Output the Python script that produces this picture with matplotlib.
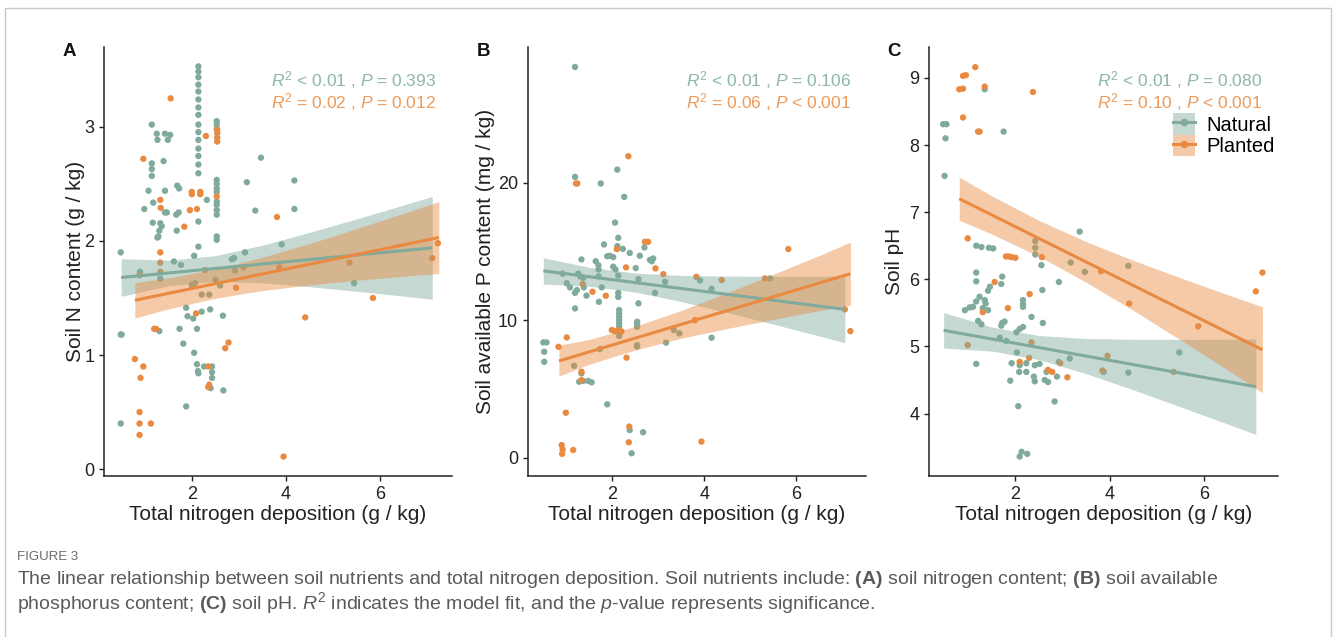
import matplotlib
matplotlib.use('Agg')
import matplotlib.pyplot as plt
from matplotlib.patches import Patch, Rectangle
from matplotlib.lines import Line2D

# ==================== 数据 ====================
# Panel A: soil N content (g / kg)
a_nat_x = [2.14] * 17 + [2.53] * 13 + [
    1.15, 1.255, 1.27, 1.43, 1.54, 1.49, 1.15, 1.15, 1.15, 1.40, 1.08, 1.43, 1.69, 1.73,
    0.99, 1.18, 1.43, 1.47, 1.67, 1.72, 1.17, 1.33, 1.36, 1.31, 1.29, 1.27, 1.68,
    2.32, 3.17, 3.47, 4.18, 4.18, 3.35, 0.49, 3.91, 3.13, 2.05,
    0.49, 0.51, 0.49, 0.90, 1.33, 1.62, 1.77, 1.31, 1.74, 2.11, 1.82,
    1.88, 1.91, 2.03, 2.21, 2.39, 2.66, 2.21, 2.37, 2.00, 2.07, 2.50, 2.60,
    2.85, 2.90, 2.92, 2.05, 2.11, 2.13, 2.14, 2.26, 2.43, 2.43, 2.43, 2.40, 2.67, 1.88, 5.45]
a_nat_y = [3.53, 3.485, 3.435, 3.37, 3.31, 3.24, 3.17, 3.105, 3.02, 2.954, 2.886, 2.81,
           2.745, 2.67, 2.593, 2.17, 1.95] + [
    3.05, 3.02, 2.98, 2.535, 2.50, 2.46, 2.43, 2.345, 2.316, 2.27, 2.23, 2.04, 2.01] + [
    3.02, 2.94, 2.886, 2.94, 2.93, 2.886, 2.68, 2.63, 2.57, 2.70, 2.44, 2.44, 2.485, 2.46,
    2.28, 2.336, 2.25, 2.25, 2.23, 2.25, 2.16, 2.155, 2.13, 2.09, 2.04, 2.03, 2.09,
    2.36, 2.515, 2.73, 2.53, 2.28, 2.266, 1.90, 1.97, 1.90, 1.87,
    1.18, 1.18, 0.40, 1.73, 1.67, 1.82, 1.79, 1.21, 1.23, 1.23, 1.10,
    1.415, 1.34, 1.32, 1.38, 1.40, 1.345, 1.53, 1.53, 1.615, 1.63, 1.66, 1.61,
    1.84, 1.85, 1.74, 1.02, 0.92, 0.86, 0.84, 0.90, 0.90, 0.85, 0.80, 0.71, 0.69, 0.55, 1.63]
a_pla_x = [1.55, 2.30, 0.97, 1.33, 1.34, 2.00, 2.18, 2.00, 2.18, 1.96, 2.11, 1.84, 3.81, 1.33,
           2.54, 2.54, 2.54, 2.54, 2.53,
           0.89, 1.33, 1.33, 2.28, 3.10, 2.94, 3.86, 4.41, 2.09, 1.20, 1.24, 2.78, 2.71,
           0.79, 0.97, 0.91, 0.89, 0.89, 1.13, 0.89, 2.35, 2.37, 2.35, 3.95,
           5.35, 5.85, 7.11, 7.23]
a_pla_y = [3.25, 2.92, 2.72, 2.36, 2.29, 2.43, 2.43, 2.41, 2.41, 2.27, 2.28, 2.125, 2.21, 1.90,
           2.975, 2.945, 2.906, 2.871, 2.39,
           1.70, 1.81, 1.73, 1.745, 1.77, 1.59, 1.77, 1.33, 1.365, 1.23, 1.23, 1.11, 1.06,
           0.965, 0.90, 0.80, 0.50, 0.40, 0.40, 0.30, 0.90, 0.74, 0.72, 0.11,
           1.81, 1.50, 1.85, 1.98]

# Panel B: soil available P content (mg / kg)
b_nat_x = [1.19, 1.19, 2.11, 1.75, 2.26, 2.06, 2.13, 1.82,
           2.11, 2.23, 2.38, 2.60, 2.70, 2.82, 2.86, 2.89,
           1.89, 2.02, 1.95, 1.33, 1.64, 1.70, 1.70, 2.02, 2.07, 2.51, 0.92, 1.26,
           1.30, 1.37, 1.70, 2.13, 2.57, 3.15, 3.91, 4.16,
           1.01, 1.08, 1.23, 1.38, 1.44, 1.77, 1.19, 2.93, 2.13, 2.13, 1.71, 2.57, 1.19] + \
          [2.15] * 8 + [2.54] * 5 + [
           3.34, 3.46, 3.17, 4.16, 1.73, 0.50, 0.57, 0.52, 0.52, 1.17,
           1.28, 1.48, 1.55, 1.37, 1.33, 1.89, 2.38, 2.67, 2.42, 5.43]
b_nat_y = [28.42, 20.43, 20.96, 19.95, 18.98, 17.11, 16.0, 15.52,
           15.4, 15.2, 14.9, 14.7, 15.3, 14.4, 14.3, 14.5,
           14.66, 14.6, 14.7, 14.43, 14.3, 14.0, 13.7, 13.9, 13.7, 13.8, 13.4, 13.4,
           13.2, 13.1, 13.2, 13.25, 13.0, 12.8, 12.9, 12.3,
           12.7, 12.4, 12.2, 12.4, 11.8, 12.4, 12.0, 12.0, 12.0, 11.7, 11.35, 11.24, 10.87] + \
          [10.75, 10.5, 10.27, 10.03, 9.78, 9.54, 9.18, 8.87] + [9.9, 9.73, 9.54, 8.21, 8.1] + [
           9.3, 9.05, 8.38, 8.74, 7.92, 8.40, 8.40, 7.72, 6.99, 6.7,
           5.54, 5.6, 5.5, 5.6, 6.15, 3.9, 2.03, 1.87, 0.34, 13.05]
b_pla_x = [2.35, 1.21, 1.24, 2.71, 2.78, 2.10, 2.30, 2.94, 3.11, 3.83, 4.38, 1.36, 1.57, 1.86,
           1.99, 2.06, 2.20, 2.13, 1.01, 0.83, 2.31, 1.33, 1.33, 0.99, 2.37, 2.36, 3.94,
           0.90, 0.92, 0.91, 1.15, 5.83, 7.06, 7.18, 5.32, 3.80]
b_pla_y = [21.93, 19.95, 19.95, 15.71, 15.71, 15.18, 13.85, 13.78, 13.36, 13.17, 12.93, 12.64,
           12.08, 11.79, 9.3, 9.2, 9.2, 9.3, 8.76, 8.08, 7.29, 6.27, 5.66, 3.29, 2.28, 1.14,
           1.19, 0.94, 0.62, 0.30, 0.58, 15.18, 10.80, 9.22, 13.05, 10.02]

# Panel C: soil pH
c_nat_x = [1.35, 0.47, 0.54, 0.52, 1.75, 0.50, 3.36, 1.17, 1.28, 1.44, 1.53, 2.42, 2.42, 2.42,
           3.17, 3.47, 4.39, 2.55,
           1.17, 1.17, 1.72, 1.70, 1.46, 1.42, 2.16, 2.16, 2.16, 2.92, 2.57,
           1.24, 1.35, 1.37, 1.31, 1.42, 1.17, 0.93, 1.03, 1.10,
           2.34, 2.58, 1.21, 1.28, 1.70, 1.77, 1.72, 2.02, 2.09, 2.16, 1.67, 1.81,
           2.03, 1.17, 1.92, 2.09, 2.23, 2.41, 2.51, 2.08, 2.23,
           1.89, 2.39, 2.41, 2.62, 2.69, 2.66, 2.88, 2.92, 3.15, 2.83, 2.06,
           2.13, 2.09, 2.25, 5.47, 3.87, 4.39]
c_nat_y = [8.83, 8.31, 8.31, 8.10, 8.20, 7.54, 6.71, 6.50, 6.48, 6.47, 6.46, 6.57, 6.47, 6.37,
           6.25, 6.11, 6.20, 6.21,
           6.10, 5.97, 6.04, 5.93, 5.89, 5.83, 5.69, 5.63, 5.59, 5.96, 5.84,
           5.74, 5.69, 5.64, 5.57, 5.54, 5.67, 5.54, 5.58, 5.59,
           5.44, 5.35, 5.38, 5.33, 5.31, 5.37, 5.35, 5.21, 5.26, 5.29, 5.13, 5.08,
           4.91, 4.74, 4.75, 4.72, 4.75, 4.72, 4.74, 4.62, 4.62,
           4.49, 4.55, 4.48, 4.50, 4.47, 4.62, 4.55, 4.77, 4.82, 4.18, 4.11,
           3.43, 3.36, 3.40, 4.91, 4.62, 4.61]
c_pla_x = [1.15, 0.89, 0.95, 0.81, 0.89, 1.35, 2.37, 0.89, 1.21, 1.24, 0.99, 1.80, 1.86, 2.00,
           1.92, 2.56, 3.81, 1.56, 2.30, 1.84, 1.31, 0.99, 2.34, 2.29, 2.09, 2.69, 2.78,
           2.95, 3.10, 3.95, 3.84, 5.35, 4.41, 5.87, 7.09, 7.23]
c_pla_y = [9.16, 9.03, 9.04, 8.83, 8.84, 8.87, 8.79, 8.41, 8.20, 8.20, 6.61, 6.34, 6.34, 6.32,
           6.33, 6.33, 6.12, 5.96, 5.78, 5.57, 5.51, 5.02, 5.06, 4.83, 4.77, 4.65, 4.62,
           4.75, 4.54, 4.86, 4.64, 4.62, 5.64, 5.30, 5.82, 6.10]

# 回归线 (读图得到的端点) 和置信带 (读图得到的上下沿)
a_nat_line = ([0.50, 7.11], [1.68, 1.94])
a_nat_band = ([0.50, 1.5, 2.5, 3.5, 4.5, 5.5, 6.5, 7.11],
              [1.515, 1.607, 1.647, 1.633, 1.599, 1.559, 1.517, 1.49],
              [1.845, 1.831, 1.871, 1.963, 2.075, 2.193, 2.315, 2.39])
a_pla_line = ([0.79, 7.25], [1.48, 2.03])
a_pla_band = ([0.79, 1.5, 2.5, 3.5, 4.5, 5.5, 6.5, 7.25],
              [1.325, 1.404, 1.498, 1.565, 1.615, 1.655, 1.69, 1.715],
              [1.635, 1.676, 1.754, 1.857, 1.977, 2.107, 2.242, 2.345])
b_nat_line = ([0.50, 7.06], [13.6, 10.8])
b_nat_band = ([0.50, 1.5, 2.5, 3.5, 4.5, 5.5, 6.5, 7.06],
              [12.65, 12.48, 12.06, 11.37, 10.57, 9.73, 8.87, 8.38],
              [14.55, 13.86, 13.44, 13.27, 13.22, 13.21, 13.21, 13.22])
b_pla_line = ([0.84, 7.18], [7.05, 13.39])
b_pla_band = ([0.84, 1.5, 2.5, 3.5, 4.5, 5.5, 6.5, 7.18],
              [5.95, 6.81, 7.85, 8.70, 9.41, 10.07, 10.71, 11.09],
              [8.20, 8.61, 9.57, 10.72, 12.01, 13.35, 14.71, 15.69])
c_nat_line = ([0.48, 7.09], [5.24, 4.40])
c_nat_band = ([0.48, 1.5, 2.5, 3.5, 4.5, 5.5, 6.5, 7.09],
              [4.975, 4.931, 4.804, 4.594, 4.352, 4.099, 3.842, 3.69],
              [5.505, 5.289, 5.162, 5.118, 5.106, 5.105, 5.108, 5.11])
c_pla_line = ([0.81, 7.23], [7.20, 4.95])
c_pla_band = ([0.81, 1.5, 2.5, 3.5, 4.5, 5.5, 6.5, 7.23],
              [6.88, 6.674, 6.34, 5.955, 5.536, 5.095, 4.649, 4.31],
              [7.52, 7.242, 6.876, 6.561, 6.28, 6.021, 5.769, 5.59])

a_stats = ['< 0.01 , ', '= 0.393', '= 0.02 , ', '= 0.012']
b_stats = ['< 0.01 , ', '= 0.106', '= 0.06 , ', '< 0.001']
c_stats = ['< 0.01 , ', '= 0.080', '= 0.10 , ', '< 0.001']

# ==================== 样式 ====================
green = '#7FAA9C'
orange = '#E98A40'
green_txt = '#8DB6A9'
orange_txt = '#EE9A58'
band_alpha = 0.45

plt.rcParams['font.family'] = ['Liberation Sans', 'DejaVu Sans']
plt.rcParams['mathtext.fontset'] = 'custom'
plt.rcParams['mathtext.rm'] = 'Liberation Sans'
plt.rcParams['mathtext.it'] = 'Liberation Sans:italic'
plt.rcParams['mathtext.bf'] = 'Liberation Sans:bold'

fig = plt.figure(figsize=(13.35, 6.37), dpi=100)
W, H = 1335, 637


def px_axes(l, r, t, b):
    return fig.add_axes([l / W, 1 - b / H, (r - l) / W, (b - t) / H])


panels = [
    dict(box=(104, 452, 47, 476), xlim=(0.134, 7.53), ylim=(-0.06, 3.70), yt=[0, 1, 2, 3],
         nat=(a_nat_x, a_nat_y), pla=(a_pla_x, a_pla_y),
         nl=a_nat_line, nb=a_nat_band, pl=a_pla_line, pb=a_pla_band, st=a_stats,
         ylabel='Soil N content (g / kg)', ylx=-0.055, letter='A', lx=63),
    dict(box=(528, 866, 47, 476), xlim=(0.167, 7.52), ylim=(-1.31, 29.87), yt=[0, 10, 20],
         nat=(b_nat_x, b_nat_y), pla=(b_pla_x, b_pla_y),
         nl=b_nat_line, nb=b_nat_band, pl=b_pla_line, pb=b_pla_band, st=b_stats,
         ylabel='Soil available P content (mg / kg)', ylx=-0.097, letter='B', lx=477),
    dict(box=(929, 1278, 47, 476), xlim=(0.17, 7.56), ylim=(3.07, 9.46), yt=[4, 5, 6, 7, 8, 9],
         nat=(c_nat_x, c_nat_y), pla=(c_pla_x, c_pla_y),
         nl=c_nat_line, nb=c_nat_band, pl=c_pla_line, pb=c_pla_band, st=c_stats,
         ylabel='Soil pH', ylx=-0.072, letter='C', lx=887),
]

for p in panels:
    ax = px_axes(*p['box'])
    ax.scatter(*p['nat'], s=21, color=green, edgecolors='none', zorder=2)
    ax.scatter(*p['pla'], s=21, color=orange, edgecolors='none', zorder=2)
    for band, col in ((p['nb'], green), (p['pb'], orange)):
        ax.fill_between(band[0], band[1], band[2], color=col, alpha=band_alpha,
                        linewidth=0, zorder=3)
    ax.plot(*p['nl'], color=green, lw=2.2, zorder=4, solid_capstyle='butt')
    ax.plot(*p['pl'], color=orange, lw=2.2, zorder=4, solid_capstyle='butt')

    ax.set_xlim(p['xlim'])
    ax.set_ylim(p['ylim'])
    ax.set_xticks([2, 4, 6])
    ax.set_yticks(p['yt'])
    ax.tick_params(labelsize=13, length=3.6, width=1, pad=3.5, colors='#222222')
    for side in ('top', 'right'):
        ax.spines[side].set_visible(False)
    for side in ('left', 'bottom'):
        ax.spines[side].set_linewidth(1.1)
        ax.spines[side].set_color('#222222')
    ax.set_xlabel('Total nitrogen deposition (g / kg)', fontsize=15, labelpad=1.5,
                  color='#222222')
    ax.set_ylabel(p['ylabel'], fontsize=15, color='#222222')
    ax.yaxis.set_label_coords(p['ylx'], 0.5)

    st = p['st']
    ax.text(0.955, 0.923, r'$\it{R}^2$ ' + st[0] + r'$\it{P}$ ' + st[1],
            transform=ax.transAxes, ha='right', va='center', fontsize=12.5, color=green_txt)
    ax.text(0.955, 0.871, r'$\it{R}^2$ ' + st[2] + r'$\it{P}$ ' + st[3],
            transform=ax.transAxes, ha='right', va='center', fontsize=12.5, color=orange_txt)

    fig.text(p['lx'] / W, 1 - 52 / H, p['letter'], fontsize=13.5, fontweight='bold',
             ha='left', va='center', color='#111111')

    if p['letter'] == 'C':
        handles = [(Patch(facecolor=green, alpha=band_alpha, linewidth=0),
                    Line2D([], [], color=green, lw=2.2, marker='o', markersize=4.5)),
                   (Patch(facecolor=orange, alpha=band_alpha, linewidth=0),
                    Line2D([], [], color=orange, lw=2.2, marker='o', markersize=4.5))]
        ax.legend(handles, ['Natural', 'Planted'], loc='upper left',
                  bbox_to_anchor=(0.699, 0.845), frameon=False, fontsize=14.5,
                  handlelength=1.1, handleheight=1.25, handletextpad=0.55,
                  labelspacing=0.0, borderaxespad=0, borderpad=0)

# 图注
cap_col = '#5a5a5a'
fig.text(17 / W, 1 - 557 / H, 'FIGURE 3', fontsize=9.5, color='#6a6a6a',
         va='center', ha='left')
fig.text(17 / W, 1 - 580 / H,
         'The linear relationship between soil nutrients and total nitrogen deposition. '
         r'Soil nutrients include: $\mathbf{(A)}$ soil nitrogen content; '
         r'$\mathbf{(B)}$ soil available',
         fontsize=14, color=cap_col, va='center', ha='left')
fig.text(17 / W, 1 - 603 / H,
         r'phosphorus content; $\mathbf{(C)}$ soil pH. $\it{R}^2$ indicates the model fit, '
         r'and the $\it{p}$-value represents significance.',
         fontsize=14, color=cap_col, va='center', ha='left')

fig.add_artist(Rectangle((4.5 / W, -0.05), (1326 / W), 1 - 7.5 / H + 0.05,
                         transform=fig.transFigure, fill=False, edgecolor='#c8c8c8',
                         linewidth=1))

fig.savefig('out.png', dpi=100, facecolor='white')
